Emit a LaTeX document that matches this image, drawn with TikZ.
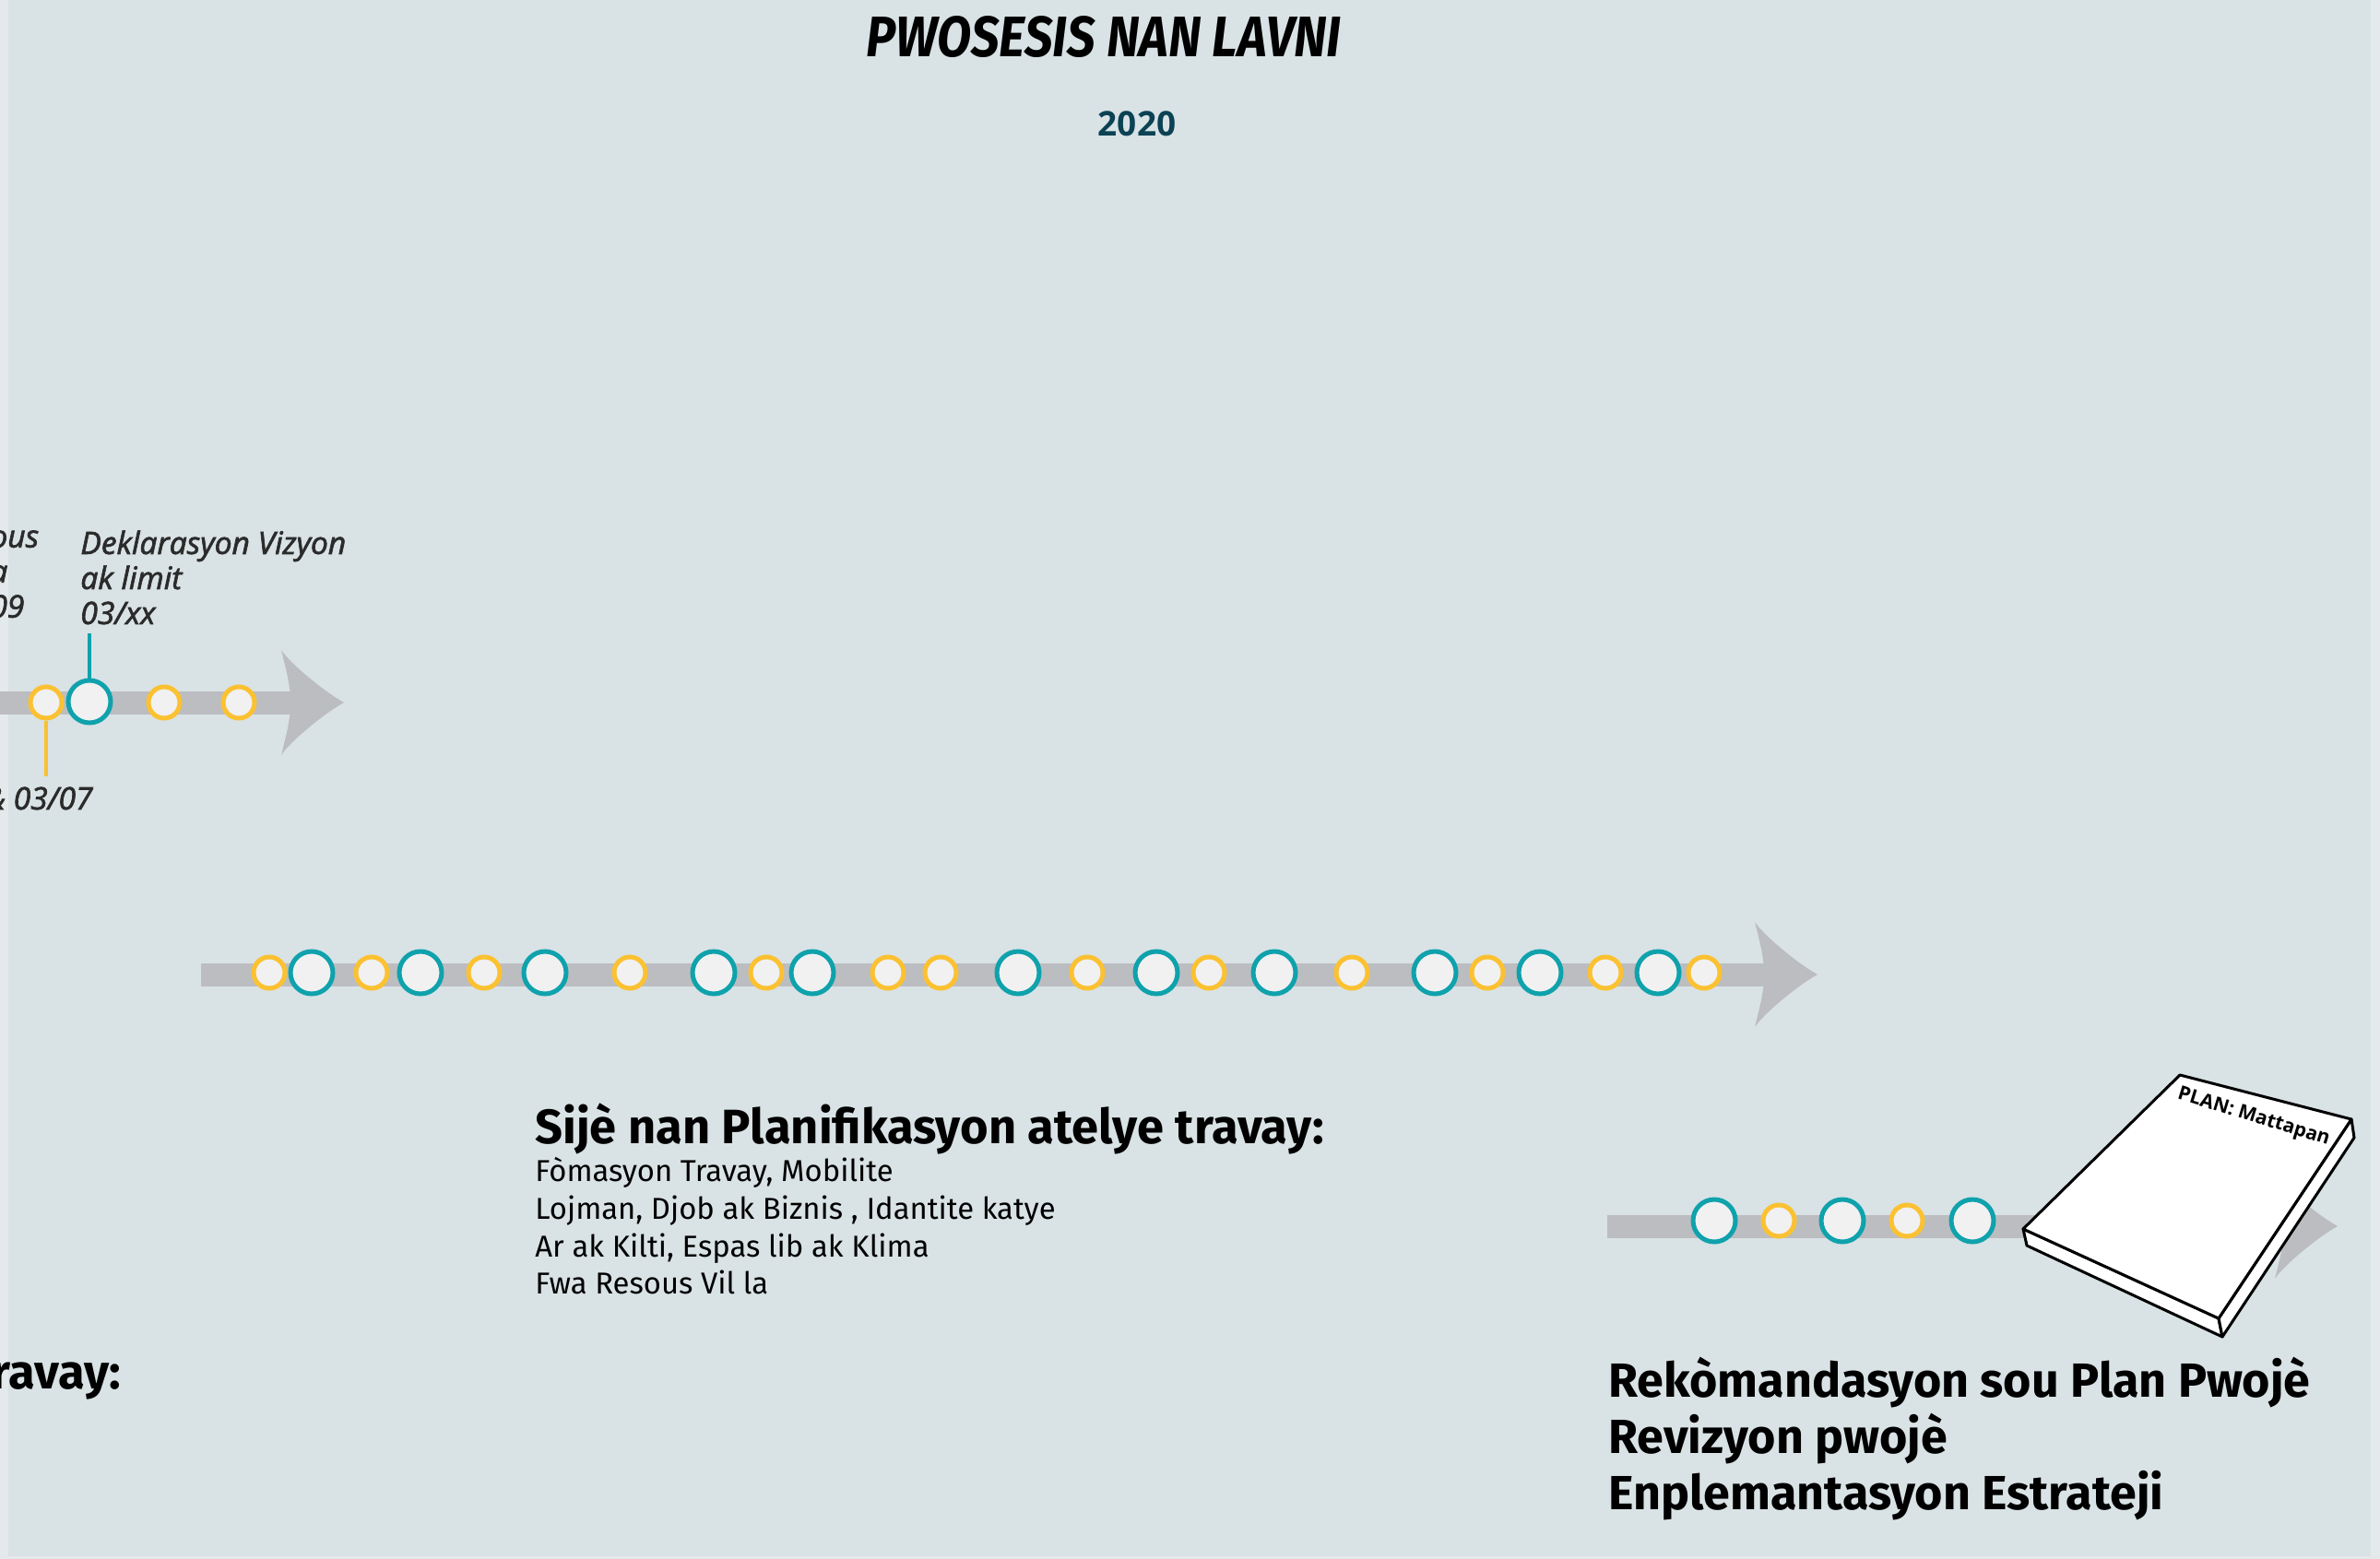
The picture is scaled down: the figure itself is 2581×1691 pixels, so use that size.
\documentclass[tikz,border=0pt]{standalone}
\usepackage{fontspec}
\setmainfont{Fira Sans}
\newfontfamily\notefont{Open Sans}[FakeBold=2]
\newfontfamily\opensans{Open Sans}
\usetikzlibrary{calc}

\definecolor{edgebg}{HTML}{E4EAEC}
\definecolor{panelbg}{HTML}{D9E2E5}
\definecolor{bargrey}{HTML}{BCBDC0}
\definecolor{dotgold}{HTML}{FBC131}
\definecolor{dotteal}{HTML}{0FA2AC}
\definecolor{dotfill}{HTML}{F1F1F2}
\definecolor{yearteal}{HTML}{0B4254}
\definecolor{labelgrey}{HTML}{2B2B2B}

\def\timehead(#1){\fill[bargrey] ($(#1)+(-68,-57)$) .. controls ($(#1)+(-60,-44)$) and ($(#1)+(-22,-12)$) .. (#1) .. controls ($(#1)+(-22,12)$) and ($(#1)+(-60,44)$) .. ($(#1)+(-68,57)$) .. controls ($(#1)+(-60,25)$) .. ($(#1)+(-57,0)$) .. controls ($(#1)+(-60,-25)$) .. cycle;}

\tikzset{
	golddot/.style={circle, draw=dotgold, fill=dotfill, line width=2.5pt, minimum size=17pt, inner sep=0pt},
	tealdot/.style={circle, draw=dotteal, fill=dotfill, line width=2.5pt, minimum size=23pt, inner sep=0pt},
	timebar/.style={draw=bargrey, line width=12.5pt},
	goldtick/.style={draw=dotgold, line width=2pt},
	tealtick/.style={draw=dotteal, line width=2pt},
	notetext/.style={font=\notefont\itshape\fontsize{16.8}{19}\selectfont, text=labelgrey, align=left, inner sep=0pt},
	headtext/.style={font=\bfseries\fontsize{26.2}{30}\selectfont, inner sep=0pt},
	listtext/.style={font=\fontsize{16.4}{20.35}\selectfont, align=left, inner sep=0pt},
	steptext/.style={font=\bfseries\fontsize{26}{30.5}\selectfont, align=left, inner sep=0pt},
}

\begin{document}
\begin{tikzpicture}[x=0.5pt, y=-0.5pt]
		%%%%% START %%%%%
		
		\useasboundingbox (0, 0) rectangle (2581, 1691);
		\clip (0, 0) rectangle (2581, 1691);
		\fill[edgebg] (0, 0) rectangle (2581, 1691);
		\fill[panelbg] (9, 0) rectangle (2571, 1688);
		
		\node[font=\bfseries\itshape, anchor=base, inner sep=0pt] (title) at (1197, 62) {\resizebox{257.5pt}{22pt}{PWOSESIS NAN LAVNI}};
		\node[font=\opensans\bfseries\fontsize{18.5}{22}\selectfont, text=yearteal, anchor=base, inner sep=0pt] (year) at (1233, 148) {2020};
		
		% first row
		\coordinate (toptip) at (373, 762);
		\draw[timebar] (-5, 762) -- ($(toptip)+(-50, 0)$);
		\timehead(toptip)
		
		\node[golddot] (top1) at (50, 762) {};
		\node[tealdot] (top2) at (97, 761) {};
		\node[golddot] (top3) at (178, 762) {};
		\node[golddot] (top4) at (259, 762) {};
		
		\coordinate (top1end) at (50, 842);
		\coordinate (top2end) at (97, 687);
		\draw[goldtick] (top1.south) -- (top1end);
		\draw[tealtick] (top2.north) -- (top2end);
		
		\node[notetext, anchor=north west] (cutnote) at (-11, 575) {ous\\a\\09};
		\node[notetext, anchor=north west] (visionnote) at (87, 575) {Deklarasyon Vizyon\\ak limit\\03/xx};
		\node[notetext, anchor=base west] (datenote) at (-17, 878) {\& 03/07};
		
		% second row
		\coordinate (midtip) at (1971, 1057);
		\draw[timebar] (218, 1057) -- ($(midtip)+(-50, 0)$);
		\timehead(midtip)
		
		\node[golddot] (mid1) at (292, 1055) {};
		\node[tealdot] (mid2) at (338, 1055) {};
		\node[golddot] (mid3) at (403, 1055) {};
		\node[tealdot] (mid4) at (456, 1055) {};
		\node[golddot] (mid5) at (525, 1055) {};
		\node[tealdot] (mid6) at (591, 1055) {};
		\node[golddot] (mid7) at (683, 1055) {};
		\node[tealdot] (mid8) at (774, 1055) {};
		\node[golddot] (mid9) at (831, 1055) {};
		\node[tealdot] (mid10) at (881, 1055) {};
		\node[golddot] (mid11) at (963, 1055) {};
		\node[golddot] (mid12) at (1020, 1055) {};
		\node[tealdot] (mid13) at (1104, 1055) {};
		\node[golddot] (mid14) at (1179, 1055) {};
		\node[tealdot] (mid15) at (1254, 1055) {};
		\node[golddot] (mid16) at (1311, 1055) {};
		\node[tealdot] (mid17) at (1382, 1055) {};
		\node[golddot] (mid18) at (1466, 1055) {};
		\node[tealdot] (mid19) at (1556, 1055) {};
		\node[golddot] (mid20) at (1613, 1055) {};
		\node[tealdot] (mid21) at (1670, 1055) {};
		\node[golddot] (mid22) at (1741, 1055) {};
		\node[tealdot] (mid23) at (1798, 1055) {};
		\node[golddot] (mid24) at (1848, 1055) {};
		
		\node[headtext, anchor=base west] (topichead) at (580, 1240) {Sijè nan Planifikasyon atelye travay:};
		\node[listtext, anchor=north west] (topiclist) at (580, 1255) {Fòmasyon Travay, Mobilite\\Lojman, Djob ak Biznis , Idantite katye\\Ar ak Kilti, Espas lib ak Klima\\Fwa Resous Vil la};
		\node[headtext, anchor=base east] (cuthead) at (132, 1506) {ravay:};
		
		% third row
		\coordinate (lowtip) at (2535, 1330);
		\draw[timebar] (1743, 1330) -- ($(lowtip)+(-50, 0)$);
		\timehead(lowtip)
		
		\node[tealdot] (low1) at (1859, 1324) {};
		\node[golddot] (low2) at (1929, 1324) {};
		\node[tealdot] (low3) at (1998, 1324) {};
		\node[golddot] (low4) at (2068, 1324) {};
		\node[tealdot] (low5) at (2139, 1324) {};
		
		\coordinate (bookA) at (2364, 1166);
		\coordinate (bookB) at (2550, 1214);
		\coordinate (bookC) at (2406, 1430);
		\coordinate (bookD) at (2194, 1333);
		\coordinate (bookBb) at (2553, 1234);
		\coordinate (bookCb) at (2410, 1450);
		\coordinate (bookDb) at (2198, 1351);
		\draw[fill=white, line width=1.5pt, line join=round] (bookD) -- (bookC) -- (bookCb) -- (bookDb) -- cycle;
		\draw[fill=white, line width=1.5pt, line join=round] (bookC) -- (bookB) -- (bookBb) -- (bookCb) -- cycle;
		\draw[fill=white, line width=1.5pt, line join=round] (bookA) -- (bookB) -- (bookC) -- (bookD) -- cycle;
		\node[font=\opensans\bfseries\fontsize{10.5}{12}\selectfont, rotate=-17, inner sep=0pt] (booktitle) at (2444, 1212) {PLAN: Mattapan};
		
		\node[steptext, anchor=north west] (steps) at (1744, 1472) {Rekòmandasyon sou Plan Pwojè\\Revizyon pwojè\\Enplemantasyon Estrateji};
		
		%%%%% END %%%%%
	\end{tikzpicture}
\end{document}
